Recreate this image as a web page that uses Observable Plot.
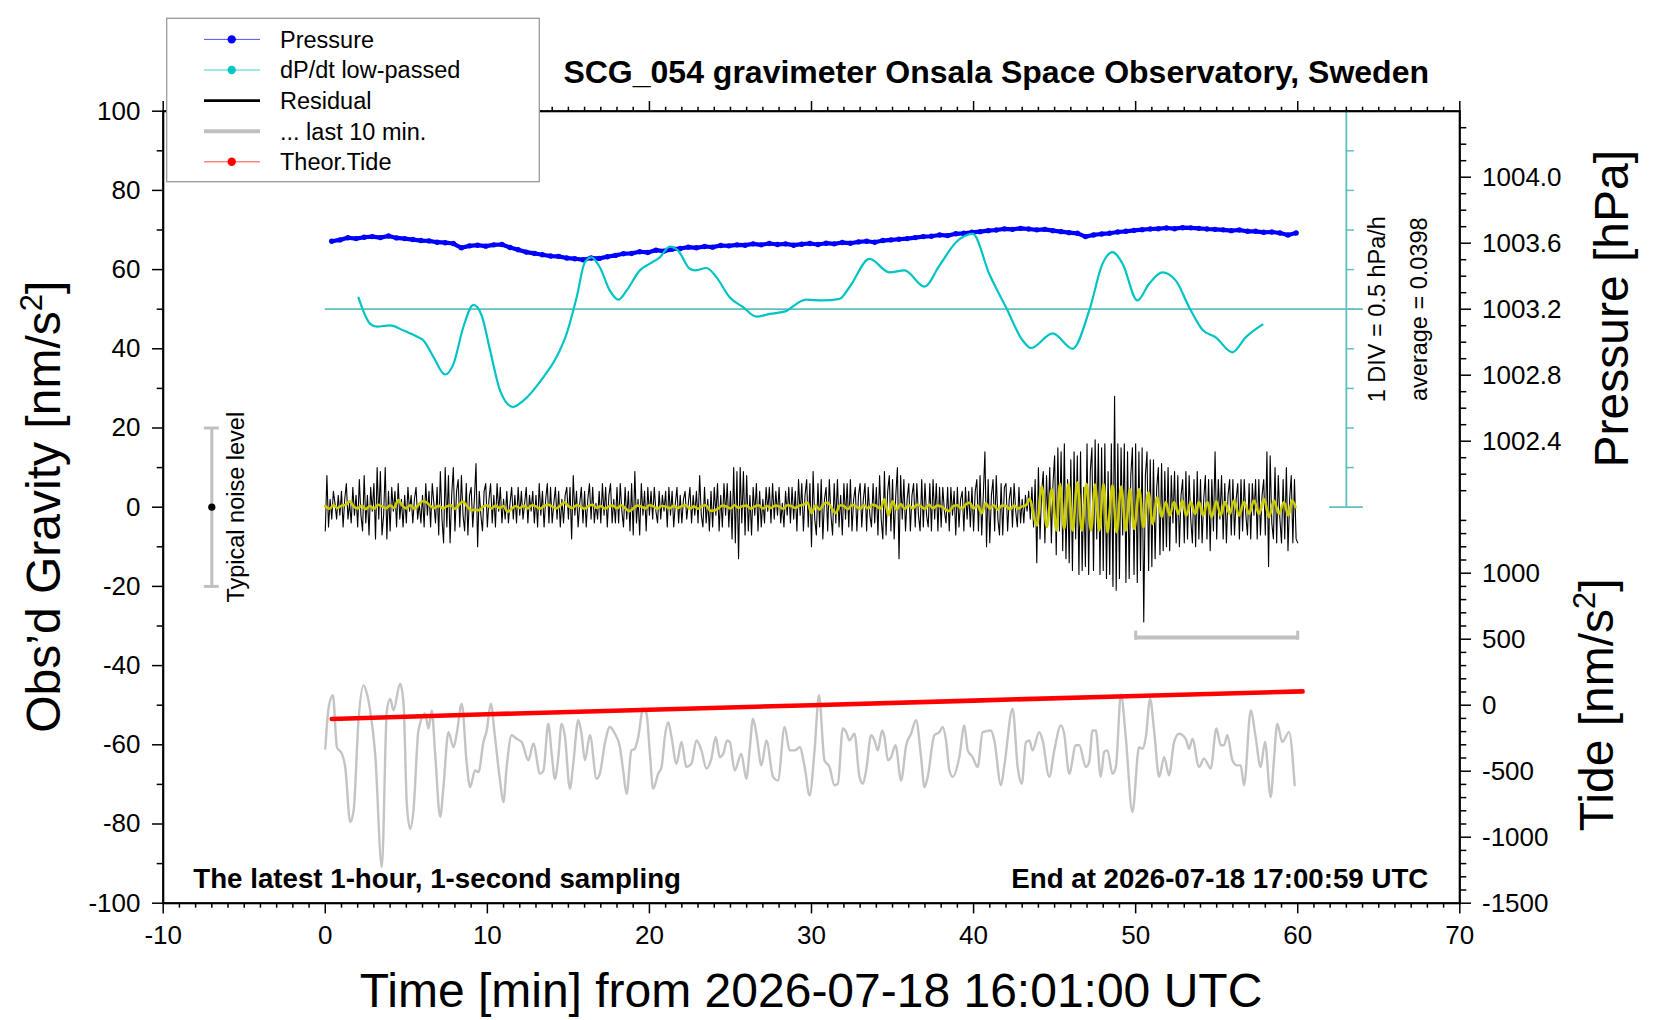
<!DOCTYPE html>
<html><head><meta charset="utf-8">
<script src="https://cdn.jsdelivr.net/npm/d3@7"></script>
<script src="https://cdn.jsdelivr.net/npm/@observablehq/plot@0.6"></script>
<style>
html,body{margin:0;padding:0;background:#fff;}
#wrap{position:relative;width:1660px;height:1020px;overflow:hidden;}
#wrap svg{position:absolute;left:0;top:0;}
</style></head><body><div id="wrap"></div>
<script>
// ---------------- DATA ----------------
// Pressure [hPa], sampled every 0.5 min starting at 0.4 min
const pressureStart = 0.4, pressureStep = 0.5;
const pressureHPa = [
1003.612,1003.620,1003.633,1003.628,1003.636,1003.640,1003.634,1003.644,1003.632,1003.628,
1003.622,1003.616,1003.614,1003.606,1003.603,1003.598,1003.572,1003.584,1003.588,1003.582,
1003.590,1003.592,1003.574,1003.560,1003.546,1003.538,1003.530,1003.522,1003.520,1003.510,
1003.506,1003.500,1003.510,1003.508,1003.518,1003.526,1003.536,1003.538,1003.548,1003.544,
1003.558,1003.552,1003.564,1003.568,1003.576,1003.572,1003.580,1003.576,1003.586,1003.584,
1003.590,1003.588,1003.596,1003.590,1003.598,1003.592,1003.596,1003.588,1003.594,1003.598,
1003.592,1003.600,1003.596,1003.604,1003.600,1003.608,1003.612,1003.606,1003.616,1003.620,
1003.624,1003.628,1003.634,1003.640,1003.642,1003.650,1003.646,1003.657,1003.660,1003.666,
1003.670,1003.676,1003.680,1003.687,1003.684,1003.690,1003.686,1003.681,1003.684,1003.676,
1003.670,1003.664,1003.660,1003.640,1003.650,1003.656,1003.660,1003.668,1003.672,1003.678,
1003.682,1003.686,1003.688,1003.692,1003.688,1003.694,1003.693,1003.690,1003.686,1003.684,
1003.681,1003.676,1003.680,1003.672,1003.672,1003.666,1003.668,1003.662,1003.650,1003.662];

// dP/dt low-passed [hPa/h] : [time min, value]
const dpdtAverage = 0.0398;
const dpdt = [
[2.05,0.185],[2.77,-0.145],[3.18,-0.180],[4.0,-0.165],[4.83,-0.230],[5.65,-0.305],[6.06,-0.355],
[6.68,-0.565],[7.39,-0.785],[7.91,-0.650],[8.52,-0.185],[9.14,0.095],[9.65,-0.040],[10.17,-0.480],
[10.78,-0.985],[11.58,-1.195],[12.22,-1.115],[13.45,-0.820],[14.27,-0.565],[14.89,-0.270],[15.51,0.190],
[16.02,0.635],[16.43,0.695],[16.94,0.570],[17.56,0.275],[18.08,0.160],[18.59,0.275],[19.41,0.530],
[20.03,0.615],[20.64,0.695],[21.26,0.830],[21.77,0.780],[22.49,0.550],[22.80,0.530],[23.52,0.560],
[24.13,0.445],[24.95,0.190],[25.78,0.065],[26.60,-0.055],[27.42,-0.020],[28.45,0.015],[28.65,0.045],
[29.68,0.160],[30.70,0.150],[31.73,0.170],[32.35,0.320],[33.58,0.675],[34.81,0.505],[35.74,0.530],
[36.97,0.325],[37.89,0.590],[38.92,0.885],[39.95,0.990],[40.97,0.485],[42.0,0.065],[43.03,-0.355],
[43.54,-0.450],[44.88,-0.265],[46.11,-0.460],[47.14,0.025],[47.96,0.615],[48.57,0.760],[49.19,0.615],
[50.11,0.150],[50.83,0.360],[51.65,0.505],[52.48,0.400],[53.30,0.065],[54.12,-0.220],[54.94,-0.315],
[55.97,-0.505],[56.79,-0.315],[57.82,-0.155]];

// Residual [nm/s^2], every 0.1 min from 0 to 60
const residualStep = 0.1;
const residual = [
-6,8,-5,2,-3,4,1,-3,3,-2,
4,-5,2,6,-3,1,-4,5,-2,3,
-5,7,-2,-6,8,-4,3,-7,5,-1,
6,-8,10,-3,9,-7,-2,10,-8,4,
-6,5,-1,4,-5,6,-3,2,-5,3,
-4,5,-1,3,-4,2,5,-3,1,-4,
3,-5,6,-2,4,-5,6,1,-4,5,
-7,9,-3,-9,10,-5,8,-9,3,10,
-6,4,7,-5,8,-2,-6,6,-7,3,
5,-5,2,11,-10,4,-2,-6,4,6,
-5,2,6,-4,3,-5,6,-1,5,-4,
2,-3,4,-4,1,5,-3,3,-4,5,
-2,4,-3,1,5,-4,3,-1,4,-4,
3,-5,6,-2,4,-5,2,6,-4,5,
-4,1,5,-3,4,-5,2,-4,3,5,
-3,5,-8,8,-2,4,-5,1,5,-4,
4,-5,2,6,-3,5,-4,1,-3,4,
-4,6,-2,5,-5,3,6,-4,2,-4,
5,-4,6,-1,-5,5,-3,4,-6,6,
-7,9,-4,2,-7,6,-2,4,-6,5,
-2,4,-3,5,-1,-4,4,-3,3,-1,
4,-5,5,-2,4,-5,1,5,-4,3,
-4,2,4,-3,1,5,-4,3,-2,4,
-4,8,-2,-5,5,-4,2,-6,4,-5,
5,-2,6,-6,3,-5,6,-2,6,-5,
4,-8,10,-9,9,-13,10,-4,9,-7,
8,-6,3,-7,5,-2,6,-6,4,-5,
2,-4,5,-1,5,-4,6,-3,4,-2,
5,-4,1,-5,4,-2,5,-4,5,-3,
4,-6,7,-2,6,-6,3,7,-5,6,
-10,9,-3,-7,6,-5,7,-8,2,5,
-6,7,-2,-7,6,-4,7,-5,3,-7,
6,-3,6,-5,7,-6,2,5,-6,3,
6,-5,2,6,-6,5,-2,-5,6,-4,
5,-7,8,-3,-8,9,-7,4,8,-6,
7,-8,3,10,-13,8,-3,7,-6,2,
6,-6,3,6,-5,6,-2,-6,7,-5,
6,-2,-5,6,-6,7,-3,6,-6,5,
-5,5,-1,-4,5,-6,5,-2,4,-7,
5,-5,2,4,-6,5,-3,4,-5,5,
-6,4,7,-6,8,-7,3,14,-10,7,
-9,3,7,-6,8,-3,-7,6,-7,5,
6,-6,2,5,-5,6,-1,-5,5,-4,
2,-4,3,-1,4,-3,5,-5,7,-14,
10,-8,4,9,-9,8,-4,10,-9,6,
13,-12,15,-6,14,-11,16,-13,7,-14,
12,-16,14,-8,13,-17,14,-16,5,-15,
16,-17,9,15,-16,17,-8,16,-17,15,
-16,16,-18,9,-17,16,-20,28,-21,16,
-18,15,-7,16,-19,14,-18,8,15,-17,
16,-19,14,-16,15,-29,8,14,-16,12,
-15,12,-13,5,10,-12,11,-11,9,-10,
10,-11,8,-4,9,-9,8,-10,3,7,
-9,9,-8,8,-3,-9,7,-10,9,-8,
7,-9,2,8,-8,7,-11,7,-6,14,
-8,7,-3,8,-8,6,-9,3,7,-7,
7,-7,2,6,-8,7,-6,7,-2,-7,
6,-8,6,-2,7,-8,7,-7,3,7,
-7,14,-15,13,-4,-8,10,-9,8,-3,
-9,7,-8,10,-11,2,8,-9,7,-8,
-9];

// Low-passed residual (yellow), early part every 0.25 min
const lowpassStep = 0.25;
const lowpassEarly = [
0.3,-0.4,0.5,-0.2, 0.4,0.6,1.5,0.2, -0.3,0.4,-0.5,0.3, -0.4,0.6,0.2,-0.3, 0.5,-0.2,1.8,0.4,
-0.3,0.5,-0.4,0.6, 1.5,1.2,0.3,-0.2, 0.4,-0.3,0.2,0.5, -0.4,0.6,1.4,0.3, -0.8,-0.6,-0.8,0.2,
0.5,-0.3,0.4,-0.2, 0.3,-1.2,-0.4,0.3, -0.2,0.4,-0.3,0.5, 0.2,-0.4,0.3,0.6, 0.2,-0.3,0.4,1.2,
0.3,-0.2,0.5,0.2, -0.4,0.3,0.6,-0.2, 0.3,-0.4,0.2,0.4, -0.3,0.5,-0.2,-1.0, -0.3,0.4,0.2,-0.3,
0.5,0.2,-0.4,0.3, 0.2,-0.3,0.4,-0.2, 0.3,0.5,-0.3,0.2, -0.4,0.3,0.5,-0.9, -0.8,-0.3,0.4,0.2,
-0.3,0.5,-0.2,0.3, 0.4,-0.4,0.2,0.5, -0.3,0.3,-0.2,0.4, 0.2,-0.4,0.5,0.3, -0.2,0.4,0.6,1.2,
-1.5,0.4,-0.6,0.8, 1.2,-0.3,-1.5,0.5, 0.3,-0.5,0.6,0.2, -0.4,0.5,-0.3,0.6, 0.3,-0.4,2.0,-2.0,
1.5,-0.6,0.8,-0.4, 0.5,-0.3,0.6,0.2, -0.4,0.7,-0.3,0.4, 0.2,-0.5,-1.0,0.3, 0.5,-0.4,0.6,1.2,
-0.3,0.4,-1.5,1.0, -0.3,0.5,-0.6,0.4, 0.3,-0.5,0.4,-0.3, 0.2,0.5];
// Low-passed residual, late part: [time min, value]
const lowpassLate = [
[43.44,2.1],[43.91,-4.6],[44.20,5.2],[44.52,-5.0],[44.83,4.6],[45.12,-5.9],[45.33,5.9],[45.59,-5.5],
[45.86,5.9],[46.11,-5.9],[46.41,6.3],[46.68,-5.9],[46.97,5.9],[47.24,-5.9],[47.50,5.7],[47.75,-5.9],
[48.02,5.9],[48.26,-6.3],[48.57,5.5],[48.82,-6.3],[49.11,5.2],[49.39,-5.9],[49.64,4.6],[49.91,-5.5],
[50.22,4.6],[50.48,-5.0],[50.79,3.8],[51.04,-4.2],[51.34,2.5],[51.61,-2.5],[51.86,1.3],[52.10,-2.1],
[52.37,1.3],[52.64,-1.7],[52.88,1.7],[53.13,-2.1],[53.40,1.3],[53.67,-1.7],[53.91,1.3],[54.16,-2.1],
[54.43,1.3],[54.69,-2.5],[54.98,1.5],[55.25,-2.1],[55.51,1.3],[55.80,-1.7],[56.07,1.7],[56.38,-2.1],
[56.69,1.3],[57.00,-1.7],[57.30,1.7],[57.61,-1.7],[57.92,2.1],[58.23,-2.5],[58.53,1.7],[58.84,-1.7],
[59.15,1.3],[59.42,-2.1],[59.66,1.7],[59.87,0.0]];

// "... last 10 min." trace: [time min, value]
const lastTenMin = [
[0.0,-61.0],[0.21,-50.5],[0.47,-47.5],[0.72,-60.6],[1.03,-62.3],[1.23,-65.6],[1.54,-79.5],[1.75,-76.6],
[2.05,-53.8],[2.36,-45.0],[2.57,-47.1],[2.77,-51.3],[3.08,-62.3],[3.49,-90.9],[3.80,-51.3],[4.01,-48.4],
[4.21,-51.3],[4.62,-44.6],[4.83,-49.6],[5.03,-74.9],[5.24,-81.2],[5.44,-76.6],[5.75,-56.4],[6.16,-52.1],
[6.37,-55.9],[6.57,-51.3],[6.78,-62.3],[7.09,-78.2],[7.29,-70.7],[7.60,-56.8],[7.91,-60.6],[8.11,-57.2],
[8.42,-49.6],[8.73,-64.8],[8.94,-70.7],[9.24,-66.5],[9.45,-66.9],[9.76,-59.3],[9.96,-56.4],[10.21,-49.6],
[10.47,-58.0],[10.78,-69.0],[10.99,-74.5],[11.19,-65.6],[11.50,-57.6],[11.81,-58.5],[12.12,-59.3],[12.53,-63.9],
[12.84,-59.7],[13.25,-67.3],[13.46,-66.5],[13.76,-54.7],[13.97,-62.3],[14.17,-68.6],[14.38,-63.1],[14.58,-54.7],
[14.79,-58.0],[15.09,-71.1],[15.30,-64.8],[15.61,-53.8],[15.81,-57.2],[16.02,-63.9],[16.33,-57.6],[16.74,-68.6],
[16.94,-67.3],[17.25,-59.7],[17.56,-55.5],[17.87,-57.2],[18.18,-60.6],[18.38,-66.5],[18.59,-72.4],[18.89,-61.4],
[19.10,-61.0],[19.31,-58.0],[19.61,-50.9],[19.82,-52.1],[20.03,-62.3],[20.23,-71.1],[20.54,-67.3],[20.75,-65.6],
[20.95,-58.0],[21.16,-54.3],[21.36,-58.0],[21.67,-64.8],[21.98,-59.3],[22.28,-65.6],[22.59,-64.8],[22.90,-58.9],
[23.21,-61.4],[23.52,-66.0],[23.82,-63.5],[24.09,-58.0],[24.34,-63.1],[24.55,-62.3],[24.79,-58.9],[24.96,-59.3],
[25.26,-66.5],[25.67,-62.3],[25.98,-68.6],[26.19,-61.0],[26.39,-53.4],[26.60,-57.2],[26.91,-65.2],[27.22,-58.9],
[27.63,-68.1],[27.93,-69.0],[28.34,-55.5],[28.65,-61.4],[28.96,-61.4],[29.27,-60.6],[29.58,-65.6],[29.88,-72.8],
[30.19,-61.4],[30.46,-47.5],[30.80,-63.9],[31.11,-65.6],[31.42,-70.2],[31.63,-69.8],[31.93,-55.9],[32.14,-56.8],
[32.34,-58.9],[32.65,-57.2],[32.96,-68.1],[33.17,-69.8],[33.37,-66.5],[33.68,-57.6],[33.89,-58.9],[34.09,-61.4],
[34.36,-56.4],[34.50,-58.0],[34.71,-63.9],[34.91,-63.1],[35.18,-60.1],[35.53,-69.0],[35.84,-60.1],[36.14,-57.2],
[36.45,-53.8],[36.76,-63.1],[36.97,-70.7],[37.17,-68.1],[37.58,-57.6],[37.89,-56.8],[38.10,-55.5],[38.30,-58.9],
[38.51,-66.5],[38.71,-68.1],[39.12,-63.1],[39.43,-55.1],[39.64,-61.4],[39.94,-63.1],[40.25,-65.6],[40.56,-56.8],
[41.07,-56.4],[41.28,-58.9],[41.69,-70.2],[41.90,-65.2],[42.41,-50.9],[42.72,-65.6],[42.98,-69.8],[43.23,-59.3],
[43.44,-58.9],[43.64,-61.4],[44.05,-56.8],[44.26,-58.9],[44.67,-68.1],[44.98,-61.4],[45.39,-55.1],[45.59,-57.2],
[45.90,-67.3],[46.31,-60.1],[46.52,-60.1],[46.93,-65.6],[47.13,-64.4],[47.34,-56.4],[47.54,-56.4],[47.85,-68.1],
[48.06,-61.8],[48.26,-61.4],[48.57,-67.3],[48.78,-65.6],[49.09,-47.3],[49.39,-58.0],[49.80,-77.0],[50.21,-60.6],
[50.42,-61.0],[50.63,-58.0],[50.89,-48.4],[51.14,-56.4],[51.45,-68.1],[51.76,-63.1],[52.06,-67.7],[52.37,-59.3],
[52.68,-57.2],[53.09,-58.5],[53.30,-61.0],[53.50,-58.5],[53.91,-65.6],[54.22,-63.5],[54.63,-66.0],[54.98,-55.9],
[55.25,-60.1],[55.45,-60.1],[55.66,-57.6],[55.97,-63.9],[56.27,-65.2],[56.48,-65.2],[56.69,-70.2],[57.10,-51.3],
[57.40,-58.0],[57.71,-65.6],[57.98,-59.3],[58.33,-73.2],[58.53,-63.9],[58.74,-54.7],[59.05,-59.3],[59.46,-56.8],
[59.81,-70.2]];

// Theoretical tide [nm/s^2]
const tideTimes = [0.4, 10, 20, 30, 40, 50, 60.3];
const tideValues = [-104, -69, -34, 0, 35, 70, 105];

// Axis ticks
const gravityTicks = [-100,-80,-60,-40,-20,0,20,40,60,80,100];
const timeTicks = [-10,0,10,20,30,40,50,60,70];
const pressureTicks = [1002.4,1002.8,1003.2,1003.6,1004.0];
const tideTicks = [-1500,-1000,-500,0,500,1000];

const legendLabels = ["Pressure","dP/dt low-passed","Residual","... last 10 min.","Theor.Tide"];

// ---------------- MAPPINGS (secondary axes onto gravity frame) ----------------
const P2G = p => (p - 1002.0) * (100 / 2.4);   // 1002.0..1004.4 hPa -> 0..100
const T2G = t => -50 + t / 30;                  // -1500..1500 nm/s2 -> -100..0
const D2G = d => 50 + (d - dpdtAverage) / 0.05; // 1 DIV (10 units) = 0.5 hPa/h

const FONT = '"Liberation Sans", Arial, Helvetica, sans-serif';

const pressure = pressureHPa.map((p, i) => ({t: pressureStart + i * pressureStep, g: P2G(p)}));
const resid = residual.map((v, i) => ({t: i * residualStep, g: v}));
const lowpass = lowpassEarly.map((v, i) => ({t: i * lowpassStep, g: v}))
  .concat(lowpassLate.map(([t, v]) => ({t, g: v})));
const last10 = lastTenMin.map(([t, v]) => ({t, g: v}));
const tide = tideTimes.map((t, i) => ({t, g: T2G(tideValues[i])}));
const dp = dpdt.map(([t, d]) => ({t, g: D2G(d)}));

const minorTime = d3.range(-10, 71, 1).filter(d => d % 10 !== 0);
const minorGrav = d3.range(-90, 100, 20);
const pressMinor = d3.range(1, 24).map(i => +(1002 + i * 0.1).toFixed(1)).filter(p => !pressureTicks.includes(p));
const tideMinor = d3.range(-1400, 1401, 100).filter(t => !tideTicks.includes(t));

const scaleColor = "#5fc0bc";
const AX = {label: null, strokeWidth: 1.5, fontSize: 26};

const chart = Plot.plot({
  width: 1660, height: 1020,
  marginLeft: 162.7, marginRight: 200.7, marginTop: 110.7, marginBottom: 117.3,
  style: {fontFamily: FONT, background: "white", color: "black", overflow: "visible"},
  x: {domain: [-10, 70], axis: null},
  y: {domain: [-100, 100], axis: null},
  marks: [
    // pressure
    Plot.line(pressure, {x: "t", y: "g", stroke: "#0000ff", strokeWidth: 4.2}),
    Plot.dot(pressure, {x: "t", y: "g", r: 2.7, fill: "#0000ff", stroke: null}),
    // dP/dt scale
    Plot.ruleY([50], {x1: 0, x2: 64.05, stroke: scaleColor, strokeWidth: 1.8}),
    Plot.ruleX([63], {y1: 0, y2: 100, stroke: scaleColor, strokeWidth: 1.8}),
    Plot.ruleY(d3.range(10, 100, 10), {x1: 63, x2: 63.5, stroke: scaleColor, strokeWidth: 1.5}),
    Plot.ruleY([0, 100], {x1: 61.97, x2: 64.05, stroke: scaleColor, strokeWidth: 1.8}),
    Plot.line(dp, {x: "t", y: "g", stroke: "#00c4c4", strokeWidth: 2.2, curve: "monotone-x"}),
    Plot.text(["1 DIV = 0.5 hPa/h"], {x: 64.94, y: 50, rotate: -90, fontSize: 23.5, fill: "black"}),
    Plot.text(["average = " + dpdtAverage], {x: 67.53, y: 50, rotate: -90, fontSize: 23.5, fill: "black"}),
    // residual and low-passed
    Plot.line(resid, {x: "t", y: "g", stroke: "black", strokeWidth: 1.1}),
    Plot.line(lowpass, {x: "t", y: "g", stroke: "#cccc00", strokeWidth: 2.6, curve: "monotone-x"}),
    // last 10 min
    Plot.line(last10, {x: "t", y: "g", stroke: "#c4c4c4", strokeWidth: 2.4, curve: "monotone-x"}),
    Plot.ruleY([-32.9], {x1: 50, x2: 60, stroke: "#c0c0c0", strokeWidth: 4}),
    Plot.ruleX([50, 60], {y1: -33.6, y2: -31.3, stroke: "#c0c0c0", strokeWidth: 3}),
    // tide
    Plot.line(tide, {x: "t", y: "g", stroke: "#ff0000", strokeWidth: 4.6}),
    // typical noise level
    Plot.ruleX([-7], {y1: -20, y2: 20, stroke: "#c0c0c0", strokeWidth: 3}),
    Plot.ruleY([-20, 20], {x1: -7.46, x2: -6.54, stroke: "#c0c0c0", strokeWidth: 3}),
    Plot.dot([0], {x: -7, y: 0, r: 3.6, fill: "black", stroke: null}),
    Plot.text(["Typical noise level"], {x: -5.45, y: 0, rotate: -90, fontSize: 23.5, fill: "black"}),
    // frame and axes
    Plot.frame({stroke: "black", strokeWidth: 2.2}),
    Plot.axisX({...AX, anchor: "bottom", ticks: timeTicks, tickSize: 10.7, tickPadding: 11.5, tickFormat: d => String(d)}),
    Plot.axisX({...AX, anchor: "bottom", ticks: minorTime, tickSize: 5, tickFormat: () => ""}),
    Plot.axisX({...AX, anchor: "top", ticks: timeTicks, tickSize: 10.7, tickFormat: () => ""}),
    Plot.axisX({...AX, anchor: "top", ticks: minorTime, tickSize: 5, tickFormat: () => ""}),
    Plot.axisY({...AX, anchor: "left", ticks: gravityTicks, tickSize: 10.7, tickPadding: 12, tickFormat: d => String(d)}),
    Plot.axisY({...AX, anchor: "left", ticks: minorGrav, tickSize: 6, tickFormat: () => ""}),
    Plot.axisY({...AX, anchor: "right", ticks: pressureTicks.map(P2G), tickSize: 10.7, tickPadding: 11.5,
      tickFormat: g => (1002 + g * 2.4 / 100).toFixed(1)}),
    Plot.axisY({...AX, anchor: "right", ticks: pressMinor.map(P2G), tickSize: 6, tickFormat: () => ""}),
    Plot.axisY({...AX, anchor: "right", ticks: tideTicks.map(T2G), tickSize: 10.7, tickPadding: 11.5,
      tickFormat: g => String(Math.round((g + 50) * 30))}),
    Plot.axisY({...AX, anchor: "right", ticks: tideMinor.map(T2G), tickSize: 6, tickFormat: () => ""})
  ]
});
document.getElementById("wrap").appendChild(chart);

// ---------------- OVERLAY: titles, legend ----------------
const ov = d3.select("#wrap").append("svg")
  .attr("width", 1660).attr("height", 1020)
  .style("font-family", FONT).style("pointer-events", "none");

// legend
const lg = ov.append("g");
lg.append("rect").attr("x", 166.7).attr("y", 18.3).attr("width", 372.6).attr("height", 163.4)
  .attr("fill", "white").attr("stroke", "#9a9a9a").attr("stroke-width", 1.3);
const legendStyle = [
  {line: "#5050ff", w: 1, dot: "#0000ff"},
  {line: "#40d0d0", w: 1, dot: "#00c8c8"},
  {line: "black", w: 2.6, dot: null},
  {line: "#c0c0c0", w: 4, dot: null},
  {line: "#ff5050", w: 1, dot: "#ff0000"}
];
legendLabels.forEach((lab, i) => {
  const y = 39.4 + i * 30.6, s = legendStyle[i];
  lg.append("line").attr("x1", 204).attr("x2", 260).attr("y1", y).attr("y2", y)
    .attr("stroke", s.line).attr("stroke-width", s.w);
  if (s.dot) lg.append("circle").attr("cx", 231.7).attr("cy", y).attr("r", 4.2).attr("fill", s.dot);
  lg.append("text").attr("x", 280).attr("y", y + 8.4).attr("font-size", 23.5).attr("fill", "black").text(lab);
});

// title
ov.append("text").attr("x", 1429).attr("y", 83).attr("text-anchor", "end")
  .attr("font-size", 32).attr("font-weight", "bold").text("SCG_054 gravimeter Onsala Space Observatory, Sweden");
// bottom annotations
ov.append("text").attr("x", 193.3).attr("y", 888.3).attr("font-size", 27.7).attr("font-weight", "bold")
  .text("The latest 1-hour, 1-second sampling");
ov.append("text").attr("x", 1428.3).attr("y", 888.3).attr("text-anchor", "end").attr("font-size", 27.7)
  .attr("font-weight", "bold").text("End at 2026-07-18 17:00:59 UTC");
// x title
ov.append("text").attr("x", 811).attr("y", 1006.7).attr("text-anchor", "middle").attr("font-size", 48)
  .text("Time [min] from 2026-07-18 16:01:00 UTC");
// y titles
function rotTitle(x, y, parts) {
  const t = ov.append("text").attr("x", x).attr("y", y).attr("text-anchor", "middle")
    .attr("font-size", 48).attr("transform", `rotate(-90 ${x} ${y})`);
  parts.forEach(p => {
    const ts = t.append("tspan").text(p.s);
    if (p.sup) ts.attr("font-size", 31).attr("dy", -18);
    if (p.after) ts.attr("dy", 18);
  });
}
rotTitle(60, 506.7, [{s: "Obs\u2019d Gravity [nm/s"}, {s: "2", sup: true}, {s: "]", after: true}]);
rotTitle(1628, 308.7, [{s: "Pressure [hPa]"}]);
rotTitle(1613, 704.8, [{s: "Tide [nm/s"}, {s: "2", sup: true}, {s: "]", after: true}]);
</script></body></html>
